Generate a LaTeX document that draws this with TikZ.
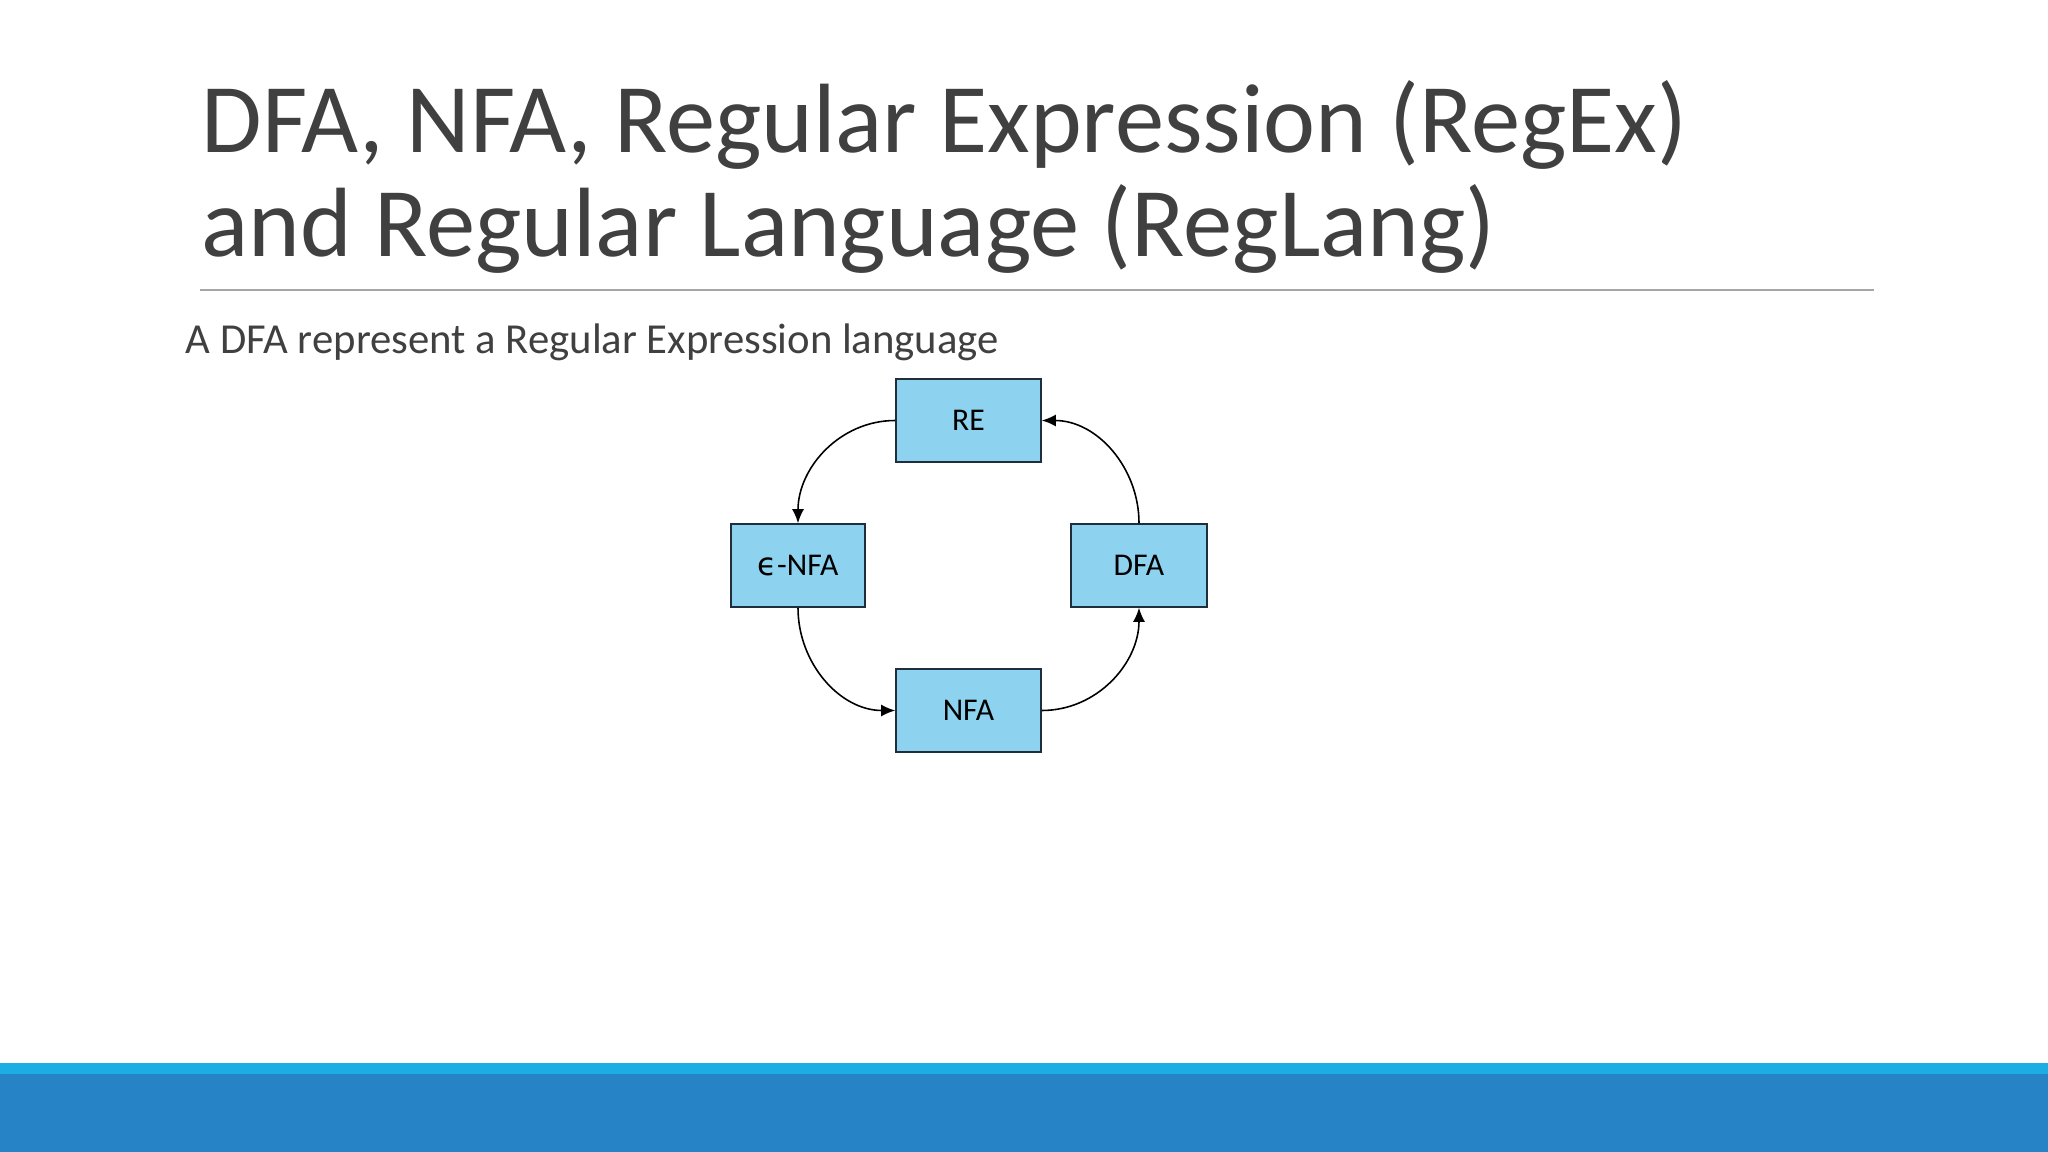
\documentclass[tikz,border=0pt]{standalone}
\usepackage{fontspec}
\setmainfont{Carlito}
\newfontfamily\epsfont{DejaVu Sans}
\usetikzlibrary{arrows.meta}

\definecolor{titlegray}{HTML}{404040}
\definecolor{rulegray}{HTML}{A6A6A6}
\definecolor{boxblue}{HTML}{8DD3F0}
\definecolor{boxline}{HTML}{1F2D3D}
\definecolor{barlight}{HTML}{1CADE4}
\definecolor{bardark}{HTML}{2683C6}

\tikzset{
  statebox/.style={draw=boxline, fill=boxblue, line width=0.45pt, minimum height=8.3mm, inner sep=0pt, font=\fontsize{9}{10}\selectfont},
  conv/.style={-{Latex[length=1.4mm,width=1.2mm]}, line width=0.45pt, black},
}

\begin{document}
\begin{tikzpicture}[x=0.01cm, y=-0.01cm]
	\useasboundingbox (0,0) rectangle (2048,1152);
	
	% footer bar
	\fill[barlight] (0,1063) rectangle (2048,1074);
	\fill[bardark] (0,1074) rectangle (2048,1152);
	
	\def\tsize{\fontsize{28}{30}\selectfont}
	
	\node[anchor=base west, inner sep=0, text=titlegray, font=\tsize] (T1) at (201,153) {DFA, NFA, Regular Expression (RegEx)};
	\node[anchor=base west, inner sep=0, text=titlegray, font=\tsize] (T2) at (201,257) {and Regular Language (RegLang)};
	\draw[rulegray, line width=0.2mm] (200,290) -- (1874,290);
	
	\node[anchor=base west, inner sep=0, text=titlegray, font=\fontsize{12.15}{14}\selectfont] (sub) at (185,354) {A DFA represent a Regular Expression language};
	
	\node[statebox, minimum width=14.5mm] (RE) at (968.5,420.5) {RE};
	\node[statebox, minimum width=13.4mm] (eNFA) at (798,565.5) {{\epsfont ϵ}-NFA};
	\node[statebox, minimum width=13.6mm] (DFA) at (1139,565.5) {DFA};
	\node[statebox, minimum width=14.5mm] (NFA) at (968.5,710.5) {NFA};
	
	\draw[conv] (RE.west) to[out=180, in=90] (eNFA.north);
	\draw[conv] (eNFA.south) to[out=-90, in=180] (NFA.west);
	\draw[conv] (NFA.east) to[out=0, in=-90] (DFA.south);
	\draw[conv] (DFA.north) to[out=90, in=0] (RE.east);
\end{tikzpicture}
\end{document}
